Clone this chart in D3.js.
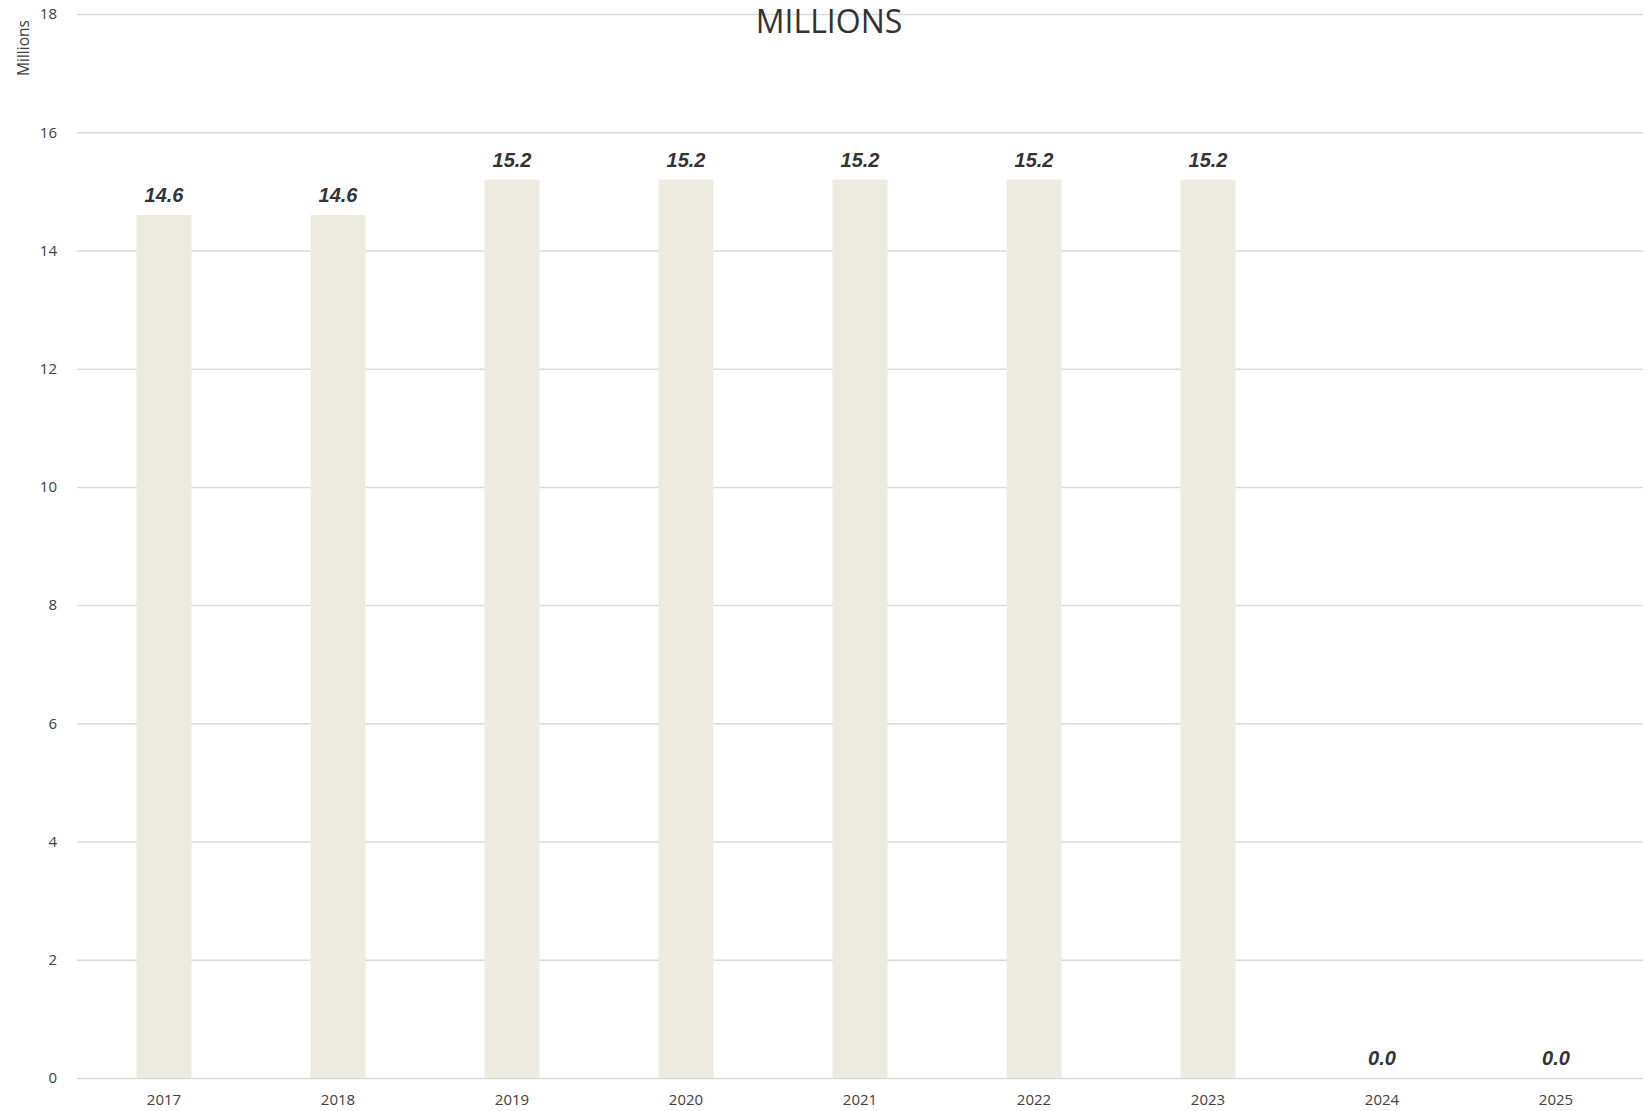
<!DOCTYPE html>
<html>
<head>
<meta charset="utf-8">
<script src="https://cdn.jsdelivr.net/npm/d3@7/dist/d3.min.js"></script>
<style>
  html, body { margin: 0; padding: 0; background: #fff; }
  svg { display: block; }
</style>
</head>
<body>
<svg id="chart" width="1648" height="1111"></svg>
<script>
// Yearly totals, in millions
const years = ["2017", "2018", "2019", "2020", "2021", "2022", "2023", "2024", "2025"];
const values = [14.6, 14.6, 15.2, 15.2, 15.2, 15.2, 15.2, 0.0, 0.0];
const yTicks = [0, 2, 4, 6, 8, 10, 12, 14, 16, 18];

const svg = d3.select("#chart");
const margin = { top: 14, right: 5, bottom: 33, left: 77 };
const W = 1648, H = 1111;
const innerW = W - margin.left - margin.right;
const innerH = H - margin.top - margin.bottom;

const g = svg.append("g").attr("transform", `translate(${margin.left},${margin.top})`);

const x = d3.scaleBand().domain(years).range([0, innerW]).paddingInner(0.684).paddingOuter(0.342);
const y = d3.scaleLinear().domain([0, 18]).range([innerH, 0]);

// Horizontal gridlines
g.append("g")
  .selectAll("line")
  .data(yTicks)
  .join("line")
  .attr("x1", 0)
  .attr("x2", innerW)
  .attr("y1", d => y(d) + 0.5)
  .attr("y2", d => y(d) + 0.5)
  .attr("stroke", "#d9d9d9")
  .attr("stroke-width", 1.5);

// Y axis tick labels
const yAxis = g.append("g")
  .call(d3.axisLeft(y).tickValues(yTicks).tickSize(0).tickPadding(20).tickFormat(d3.format("d")));
yAxis.select(".domain").remove();
yAxis.selectAll("text")
  .attr("font-family", "'Open Sans', sans-serif")
  .attr("font-size", 15)
  .attr("fill", "#404040");

// X axis labels
const xAxis = g.append("g")
  .attr("transform", `translate(0,${innerH})`)
  .call(d3.axisBottom(x).tickSize(0).tickPadding(16));
xAxis.select(".domain").remove();
xAxis.selectAll("text")
  .attr("font-family", "'Open Sans', sans-serif")
  .attr("font-size", 15)
  .attr("fill", "#404040");

// Bars
g.append("g")
  .selectAll("rect")
  .data(years.map((yr, i) => ({ yr, v: values[i] })))
  .join("rect")
  .attr("x", d => x(d.yr))
  .attr("width", x.bandwidth())
  .attr("y", d => y(d.v))
  .attr("height", d => innerH - y(d.v))
  .attr("fill", "#edebe0");

// Value labels
g.append("g")
  .selectAll("text")
  .data(years.map((yr, i) => ({ yr, v: values[i] })))
  .join("text")
  .attr("x", d => x(d.yr) + x.bandwidth() / 2)
  .attr("y", d => y(d.v) - 13)
  .attr("text-anchor", "middle")
  .attr("font-family", "'Liberation Sans', Arial, sans-serif")
  .attr("font-style", "italic")
  .attr("font-weight", "bold")
  .attr("font-size", 20)
  .attr("fill", "#333333")
  .text(d => d3.format(".1f")(d.v));

// Title
svg.append("text")
  .attr("x", 829)
  .attr("y", 33)
  .attr("text-anchor", "middle")
  .attr("font-family", "'Open Sans', sans-serif")
  .attr("font-size", 32)
  .attr("fill", "#333333")
  .text("MILLIONS");

// Axis unit label
svg.append("text")
  .attr("transform", "translate(29,48) rotate(-90)")
  .attr("text-anchor", "middle")
  .attr("font-family", "'Open Sans', sans-serif")
  .attr("font-size", 15.5)
  .attr("fill", "#404040")
  .text("Millions");
</script>
</body>
</html>
